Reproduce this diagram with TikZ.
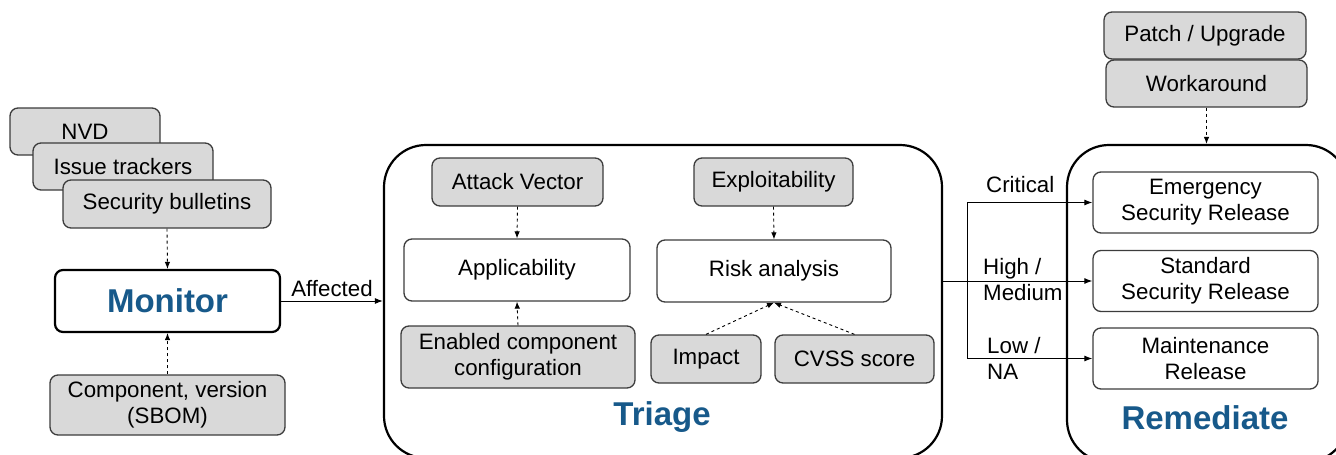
\documentclass[tikz,border=0pt]{standalone}
\usepackage{fontspec}
\setmainfont{Liberation Sans}
\usetikzlibrary{arrows.meta}
\definecolor{boxgray}{HTML}{D9D9D9}
\definecolor{edgegray}{HTML}{3C3C3C}
\definecolor{titleblue}{HTML}{17598A}
\tikzset{
  basefont/.style={font=\fontsize{22.3}{26}\selectfont},
  graybox/.style={basefont, draw=edgegray, line width=1.3pt, fill=boxgray,
    rounded corners=8pt, inner sep=0pt, align=center},
  whitebox/.style={basefont, draw=edgegray, line width=1.3pt, fill=white,
    rounded corners=8pt, inner sep=0pt, align=center},
  stagebox/.style={draw=black, line width=2.2pt, rounded corners=42pt, inner sep=0pt},
  stagetitle/.style={font=\fontsize{33}{38}\selectfont\bfseries, text=titleblue},
  dasharrow/.style={dashed, line width=0.9pt, -{Latex[length=7pt,width=5.5pt]}},
  solidarrow/.style={line width=1pt, -{Latex[length=8pt,width=6pt]}},
  edgelabel/.style={basefont, inner sep=0pt, align=left},
}
\begin{document}
\begin{tikzpicture}[x=1pt, y=-1pt]
\useasboundingbox (0,0) rectangle (1336,455);
\clip (0,0) rectangle (1336,455);

% stage containers
\node[stagebox, minimum width=558pt, minimum height=313pt] (triage) at (663,301.5) {};
\node[stagebox, minimum width=281pt, minimum height=317pt] (remed) at (1207.5,303.5) {};

% monitor stage: sources
\node[graybox, minimum width=150pt, minimum height=47pt] (nvd) at (85,131.5) {NVD};
\node[graybox, minimum width=180pt, minimum height=47pt] (issue) at (123,166.5) {Issue trackers};
\node[graybox, minimum width=208pt, minimum height=48pt] (sec) at (167,204) {Security bulletins};
\node[whitebox, line width=2.2pt, draw=black, minimum width=225pt, minimum height=62pt,
      stagetitle] (monitor) at (167.5,301) {Monitor};
\node[graybox, minimum width=235pt, minimum height=60pt] (comp) at (167.5,405)
  {Component, version\\(SBOM)};

\draw[dasharrow] (sec.south) -- (monitor.north);
\draw[dasharrow] (comp.north) -- (monitor.south);
\draw[solidarrow] (monitor.east) -- (monitor.east -| triage.west)
  node[midway, above=4pt, edgelabel] (aff) {Affected};

% triage stage
\node[graybox, minimum width=171pt, minimum height=48pt] (atk) at (517.5,182) {Attack Vector};
\node[whitebox, minimum width=226pt, minimum height=62pt] (appl) at (517,270) {Applicability};
\node[graybox, minimum width=234pt, minimum height=62pt] (enab) at (518,357)
  {Enabled component\\configuration};
\node[graybox, minimum width=159pt, minimum height=48pt] (expl) at (773.5,182) {Exploitability};
\node[whitebox, minimum width=234pt, minimum height=62pt] (risk) at (774,271) {Risk analysis};
\node[graybox, minimum width=110pt, minimum height=48pt] (impact) at (706,359) {Impact};
\node[graybox, minimum width=159pt, minimum height=48pt] (cvss) at (854.5,359) {CVSS score};
\node[stagetitle] (ttitle) at (662,417) {Triage};

\draw[dasharrow] (atk.south) -- (appl.north);
\draw[dasharrow] (enab.north) -- (appl.south);
\draw[dasharrow] (expl.south) -- (risk.north);
\draw[dasharrow] (impact.north) -- (risk.south);
\draw[dasharrow] (cvss.north) -- (risk.south);

% remediate stage
\node[graybox, minimum width=202pt, minimum height=47pt] (patch) at (1205,35.5) {Patch / Upgrade};
\node[graybox, minimum width=201pt, minimum height=47pt] (work) at (1206.5,83.5) {Workaround};
\node[whitebox, minimum width=225pt, minimum height=61pt] (emerg) at (1205.5,202.5)
  {Emergency\\Security Release};
\node[whitebox, minimum width=225pt, minimum height=61pt] (std) at (1205.5,281)
  {Standard\\Security Release};
\node[whitebox, minimum width=225pt, minimum height=61pt] (maint) at (1205.5,358.5)
  {Maintenance\\Release};
\node[stagetitle] (rtitle) at (1205,418) {Remediate};

\draw[dasharrow] (work.south) -- (work.south |- remed.north);

% severity routing
\coordinate (split) at (967,281);
\draw[solidarrow] (std.west -| triage.east) -- (std.west);
\draw[line width=1pt] (split |- emerg.west) -- (split |- maint.west);
\draw[solidarrow] (split |- emerg.west) -- (emerg.west);
\draw[solidarrow] (split |- maint.west) -- (maint.west);

\node[edgelabel, anchor=west] (lcrit) at (986,185) {Critical};
\node[edgelabel, anchor=west] (lhigh) at (983,280) {High /\\Medium};
\node[edgelabel, anchor=west] (llow) at (987,358) {Low /\\NA};
\end{tikzpicture}
\end{document}
